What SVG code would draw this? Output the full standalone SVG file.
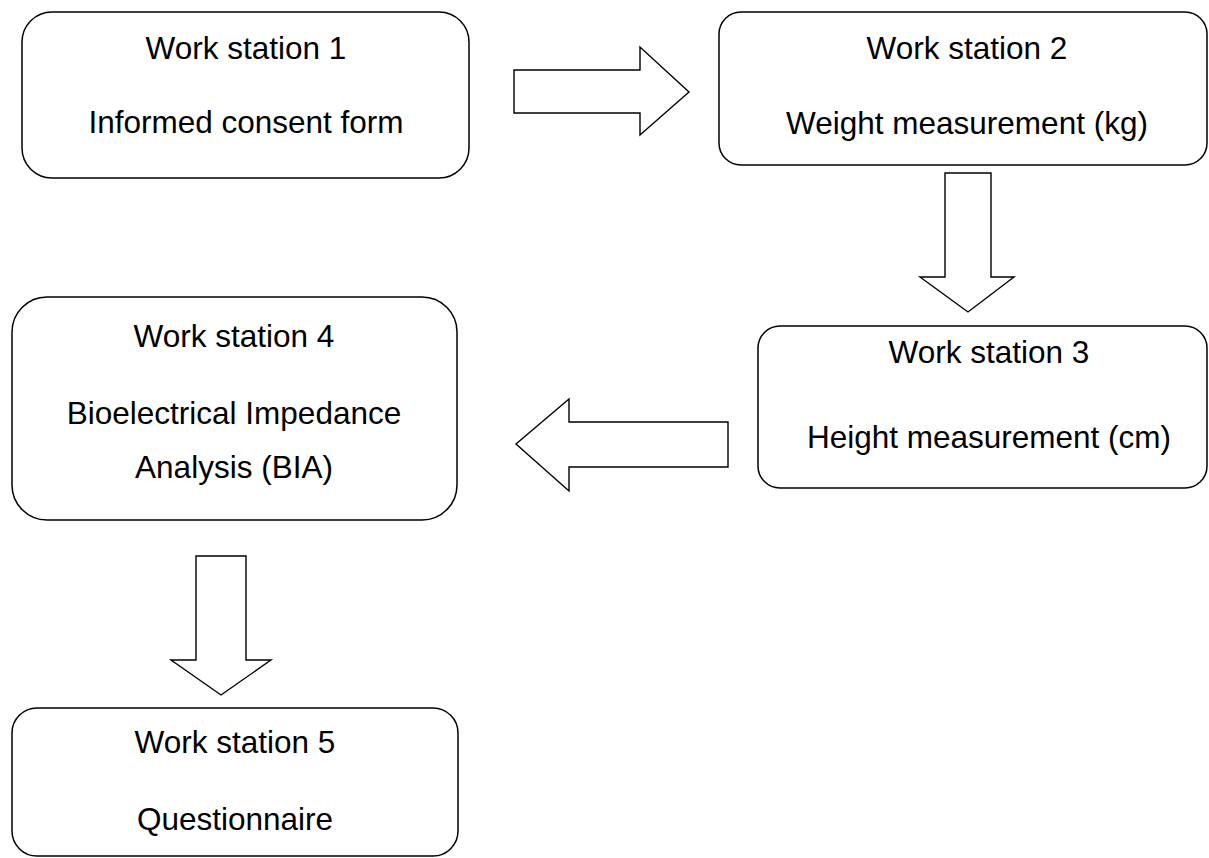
<svg xmlns="http://www.w3.org/2000/svg" width="1209" height="858" viewBox="0 0 1209 858">
<style>
.box{fill:#fff;stroke:#000;stroke-width:1.5}
.arr{fill:#fff;stroke:#000;stroke-width:1.4;stroke-linejoin:miter}
text{font-family:"Liberation Sans",Arial,sans-serif;font-size:31.5px;fill:#000;text-anchor:middle}
</style>
<rect width="1209" height="858" fill="#fff"/>
<g id="connectors">
<polygon class="arr" points="514,70 640,70 640,47 689,92 640,135 640,113 514,113"/>
<polygon class="arr" points="945,173 991,173 991,277 1014,277 968,312 920,277 945,277"/>
<polygon class="arr" points="728,422 569,422 569,399 516,444 569,491 569,467 728,467"/>
<polygon class="arr" points="196,556 246,556 246,660 271,660 221,695 171,660 196,660"/>
</g>
<g id="ws1">
<rect class="box" x="22" y="12" width="447" height="166" rx="30"/>
<text x="246" y="59">Work station 1</text>
<text x="246" y="133">Informed consent form</text>
</g>
<g id="ws2">
<rect class="box" x="719" y="12" width="488" height="153" rx="22"/>
<text x="967" y="59">Work station 2</text>
<text x="967" y="134">Weight measurement (kg)</text>
</g>
<g id="ws3">
<rect class="box" x="758" y="326" width="449" height="162" rx="22"/>
<text x="989" y="363">Work station 3</text>
<text x="989" y="448">Height measurement (cm)</text>
</g>
<g id="ws4">
<rect class="box" x="12" y="297" width="445" height="223" rx="35"/>
<text x="234" y="347">Work station 4</text>
<text x="234" y="424">Bioelectrical Impedance</text>
<text x="234" y="478">Analysis (BIA)</text>
</g>
<g id="ws5">
<rect class="box" x="12" y="708" width="446" height="148" rx="25"/>
<text x="235" y="753">Work station 5</text>
<text x="235" y="830">Questionnaire</text>
</g>
</svg>
